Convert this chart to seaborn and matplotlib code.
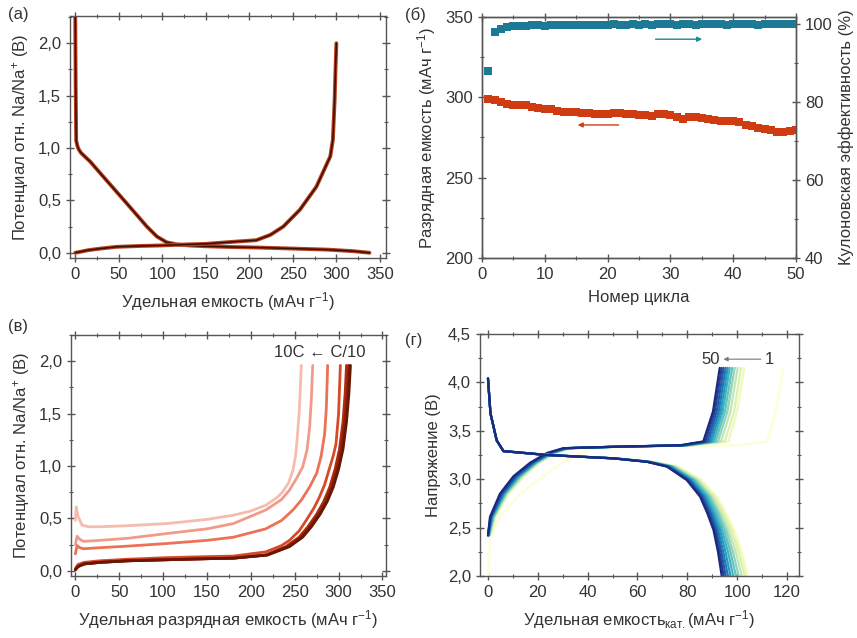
import numpy as np
import matplotlib
matplotlib.use('Agg')
import matplotlib.pyplot as plt
from matplotlib.ticker import MultipleLocator, FuncFormatter
import seaborn as sns

# ---------- (а) первый цикл заряд/разряд ----------
a_dis_x = [0, 0.5, 1.1, 2.5, 3.8, 6.5, 9.6, 17.2, 28.7, 44, 59.3, 70.8, 82.3, 93.8, 105, 117, 130, 150,
           180, 210, 250, 290, 320, 338]
a_dis_y = [2.3, 1.6, 1.07, 1.02, 0.99, 0.955, 0.93, 0.87, 0.76, 0.615, 0.47, 0.36, 0.25, 0.155, 0.1, 0.08,
           0.07, 0.062, 0.055, 0.05, 0.04, 0.03, 0.015, 0.0]
a_chg_x = [0, 15, 29, 48, 75, 100, 130, 150, 182, 208, 224, 239, 258, 277, 293, 296, 298, 299, 300]
a_chg_y = [0.0, 0.025, 0.04, 0.057, 0.065, 0.07, 0.08, 0.085, 0.105, 0.12, 0.17, 0.25, 0.41, 0.63, 0.92,
           1.08, 1.46, 1.75, 2.0]

# ---------- (б) циклирование ----------
b_cycles = list(range(1, 51))
b_capacity = [299, 298.5, 297, 296, 295.5, 295.5, 295, 294, 293.5, 293,
              292.5, 291.5, 291, 291, 291, 290.5, 290, 289.5, 289.5, 289.5,
              290.5, 290, 289.5, 289.5, 289, 289, 288.5, 289.5, 289.5, 289,
              288, 286.5, 287.5, 287.5, 287, 286.5, 286, 285.5, 285, 285,
              284.5, 283, 282, 281, 280.5, 279.5, 278.5, 278.5, 279, 279.5]
b_efficiency = [88.0, 98.0, 98.8, 99.2, 99.5, 99.6, 99.6, 99.7, 99.7, 99.6,
                99.7, 99.7, 99.8, 99.8, 99.7, 99.8, 99.8, 99.8, 99.8, 99.8,
                99.9, 99.8, 99.8, 99.9, 99.8, 99.9, 99.8, 99.9, 100.0, 99.9,
                99.8, 99.9, 99.9, 99.8, 99.9, 99.9, 99.9, 99.9, 99.8, 99.9,
                99.9, 99.9, 99.9, 99.8, 99.9, 99.9, 100.0, 99.9, 99.9, 100.0]

# ---------- (в) разные токи ----------
v_rates = ['10C', '5C', '2C', '1C', 'C/2', 'C/5', 'C/10']
v_colors = ['#f6bcae', '#f29a88', '#ec7256', '#d64a28', '#b02e10', '#8e2006', '#6a1604']
v_x_10C = [0, 1, 3, 7.6, 15, 28, 60, 104, 150, 180, 200, 217, 230, 236, 243, 248, 251, 253, 255, 256.5, 257.5]
v_y_10C = [0.48, 0.61, 0.52, 0.435, 0.42, 0.42, 0.43, 0.45, 0.49, 0.53, 0.57, 0.625, 0.7, 0.75, 0.84, 0.96,
           1.1, 1.28, 1.5, 1.75, 1.96]
v_x_5C = [0, 2, 5, 9.5, 28, 60, 104, 150, 180, 217, 235, 244, 252, 259, 264, 267, 269, 270.5]
v_y_5C = [0.25, 0.33, 0.3, 0.28, 0.29, 0.31, 0.355, 0.4, 0.45, 0.58, 0.68, 0.77, 0.88, 0.99, 1.15, 1.37, 1.65, 1.96]
v_x_2C = [0, 2, 5, 9.5, 28, 60, 104, 150, 180, 217, 235, 248, 258, 267, 275, 280, 284, 286, 287.5]
v_y_2C = [0.16, 0.24, 0.22, 0.21, 0.22, 0.235, 0.26, 0.29, 0.32, 0.4, 0.48, 0.58, 0.68, 0.8, 0.93, 1.09,
          1.3, 1.55, 1.96]
v_x_1C = [0, 3, 10, 28, 60, 104, 150, 180, 217, 235, 244, 255, 263, 272, 278, 284, 289, 294, 297, 300, 302]
v_y_1C = [0.02, 0.06, 0.08, 0.095, 0.11, 0.125, 0.135, 0.14, 0.18, 0.24, 0.29, 0.38, 0.48, 0.6, 0.7, 0.82,
          0.96, 1.1, 1.21, 1.5, 1.96]
v_y_slow = [0.01, 0.04, 0.065, 0.08, 0.095, 0.105, 0.115, 0.12, 0.15, 0.23, 0.32, 0.42, 0.54, 0.66, 0.8,
            0.97, 1.16, 1.42, 1.7, 1.96]
v_x_C2 = [0, 3, 10, 28, 60, 104, 150, 180, 217, 240, 255, 265, 275, 283, 290, 296, 301, 305, 307.5, 309]
v_x_C5 = [0, 3, 10, 28, 60, 104, 150, 180, 218, 242, 257, 267, 277, 285, 292, 298, 303, 307, 309.8, 311.5]
v_x_C10 = [0, 3, 10, 28, 60, 104, 150, 180, 219, 244, 259, 269, 279, 287, 294, 300, 305, 309, 311.8, 313.5]

# ---------- (г) катод, циклы 1-50 ----------
g_cycles = [1, 2, 5, 10, 15, 20, 25, 30, 35, 40, 45, 50]
g_chg_v = [2.0, 2.42, 2.61, 2.85, 3.03, 3.17, 3.27, 3.32, 3.335, 3.35, 3.39, 3.7, 4.15]
g_chg_x = [
    [0.0, 1.0, 4.8, 13.0, 22.0, 30.0, 37.0, 43.0, 60.0, 100.0, 112.0, 115.5, 118.5],
    [np.nan, 1.0, 3.0, 8.3, 14.5, 20.8, 27.3, 33.5, 53.0, 82.0, 96.5, 100.0, 102.8],
    [np.nan, 0.8, 2.7, 7.9, 14.0, 20.3, 26.8, 33.0, 52.5, 81.5, 95.0, 98.8, 101.5],
    [np.nan, 0.6, 2.4, 7.5, 13.6, 19.9, 26.4, 32.6, 52.0, 81.0, 93.5, 97.3, 100.2],
    [np.nan, 0.5, 2.2, 7.2, 13.2, 19.6, 26.1, 32.3, 51.7, 80.5, 92.3, 96.1, 99.0],
    [np.nan, 0.4, 2.0, 6.9, 12.8, 19.3, 25.8, 32.0, 51.5, 80.0, 91.3, 95.1, 98.0],
    [np.nan, 0.3, 1.8, 6.6, 12.4, 19.0, 25.5, 31.7, 51.3, 79.5, 90.4, 94.2, 97.0],
    [np.nan, 0.2, 1.6, 6.3, 12.0, 18.7, 25.2, 31.4, 51.1, 79.0, 89.6, 93.4, 96.2],
    [np.nan, 0.1, 1.4, 6.0, 11.6, 18.3, 24.8, 31.1, 50.9, 78.5, 88.8, 92.6, 95.4],
    [np.nan, 0.0, 1.2, 5.6, 11.2, 17.9, 24.4, 30.8, 50.7, 78.0, 88.0, 91.8, 94.6],
    [np.nan, 0.0, 1.0, 5.2, 10.7, 17.4, 24.0, 30.5, 50.5, 77.5, 87.2, 91.0, 93.8],
    [np.nan, 0.0, 0.8, 4.8, 10.2, 16.9, 23.6, 30.2, 50.3, 77.0, 86.4, 90.3, 93.0],
]
g_dis_v = [4.04, 3.68, 3.40, 3.29, 3.25, 3.215, 3.18, 3.13, 2.99, 2.82, 2.65, 2.475, 2.25, 2.0]
g_dis_x = [
    [0.0, 1.0, 3.5, 6.4, 24.5, 52.0, 66.5, 76.5, 86.0, 92.0, 95.8, 99.0, 102.0, 104.5],
    [0.0, 1.0, 3.5, 6.3, 24.2, 51.6, 66.0, 76.0, 85.5, 91.5, 95.2, 98.4, 101.4, 104.0],
    [0.0, 1.0, 3.5, 6.3, 24.0, 51.3, 65.6, 75.4, 84.8, 90.8, 94.5, 97.6, 100.5, 103.0],
    [0.0, 1.0, 3.5, 6.3, 24.0, 51.1, 65.3, 74.9, 84.1, 90.0, 93.6, 96.6, 99.4, 101.8],
    [0.0, 1.0, 3.5, 6.3, 23.9, 51.0, 65.0, 74.4, 83.5, 89.3, 92.8, 95.7, 98.3, 100.6],
    [0.0, 1.0, 3.5, 6.3, 23.8, 50.9, 64.8, 74.0, 82.9, 88.6, 92.0, 94.8, 97.3, 99.5],
    [0.0, 1.0, 3.5, 6.2, 23.8, 50.8, 64.5, 73.6, 82.3, 87.9, 91.2, 93.9, 96.3, 98.4],
    [0.0, 1.0, 3.5, 6.2, 23.7, 50.7, 64.3, 73.2, 81.7, 87.2, 90.4, 93.1, 95.3, 97.3],
    [0.0, 1.0, 3.5, 6.2, 23.7, 50.6, 64.1, 72.8, 81.2, 86.6, 89.7, 92.3, 94.4, 96.3],
    [0.0, 1.0, 3.5, 6.2, 23.7, 50.5, 64.0, 72.5, 80.7, 86.0, 89.1, 91.6, 93.6, 95.4],
    [0.0, 1.0, 3.5, 6.2, 23.6, 50.4, 63.8, 72.1, 80.2, 85.5, 88.5, 91.0, 92.9, 94.6],
    [0.0, 1.0, 3.5, 6.2, 23.6, 50.3, 63.7, 71.8, 79.8, 85.1, 88.0, 90.5, 92.3, 93.8],
]

sns.set_style('ticks')
plt.rcParams['font.family'] = ['Liberation Sans', 'DejaVu Sans']
plt.rcParams['mathtext.fontset'] = 'custom'
plt.rcParams['mathtext.rm'] = 'Liberation Sans'
plt.rcParams['mathtext.it'] = 'Liberation Sans:italic'
plt.rcParams['mathtext.bf'] = 'Liberation Sans:bold'
plt.rcParams['mathtext.default'] = 'regular'
TXT = '#333333'
FS = 12


def comma(fmt):
    return FuncFormatter(lambda v, p: fmt.format(v).replace('.', ','))


def style_axes(ax, xmaj, xmin, ymaj, ymin, yfmt='{:.1f}', right=True):
    ax.xaxis.set_major_locator(MultipleLocator(xmaj))
    ax.xaxis.set_minor_locator(MultipleLocator(xmin))
    ax.yaxis.set_major_locator(MultipleLocator(ymaj))
    ax.yaxis.set_minor_locator(MultipleLocator(ymin))
    ax.xaxis.set_major_formatter(comma('{:.0f}'))
    ax.yaxis.set_major_formatter(comma(yfmt))
    ax.tick_params(which='both', direction='inout', top=True, right=right,
                   colors='#555555', labelcolor=TXT, labelsize=FS)
    ax.tick_params(which='major', length=6, width=1)
    ax.tick_params(which='minor', length=3, width=0.8)
    for s in ax.spines.values():
        s.set_color('#555555')
        s.set_linewidth(1.0)


fig = plt.figure(figsize=(8.57, 6.38), dpi=100)

# ---------- (а) ----------
ax_a = fig.add_axes([0.0817, 0.5956, 0.3687, 0.3793])
for xs, ys in [(a_dis_x, a_dis_y), (a_chg_x, a_chg_y)]:
    sns.lineplot(x=xs, y=ys, ax=ax_a, color='#b8401f', lw=2.8, sort=False, estimator=None)
    sns.lineplot(x=xs, y=ys, ax=ax_a, color='#3a0d04', lw=1.1, sort=False, estimator=None)
ax_a.set_xlim(-6, 357)
ax_a.set_ylim(-0.05, 2.26)
style_axes(ax_a, 50, 25, 0.5, 0.25)
ax_a.set_xlabel('Удельная емкость (мАч г$^{-1}$)', fontsize=FS, color=TXT, labelpad=6)
ax_a.set_ylabel('Потенциал отн. Na/Na$^{+}$ (В)', fontsize=FS, color=TXT, labelpad=5)

# ---------- (б) ----------
ax_b = fig.add_axes([0.5624, 0.5956, 0.3664, 0.3778])
ax_b2 = ax_b.twinx()
sns.lineplot(x=b_cycles, y=b_capacity, ax=ax_b, color='#d03c12', lw=3, sort=False, estimator=None)
sns.scatterplot(x=b_cycles, y=b_capacity, ax=ax_b, color='#d03c12', marker='s', s=32, linewidth=0)
sns.lineplot(x=b_cycles[1:], y=b_efficiency[1:], ax=ax_b2, color='#1c7a94', lw=3, sort=False, estimator=None)
sns.scatterplot(x=b_cycles, y=b_efficiency, ax=ax_b2, color='#1c7a94', marker='s', s=32, linewidth=0)
ax_b.set_xlim(0, 50)
ax_b.set_ylim(200, 350)
ax_b2.set_ylim(40, 101.8)
style_axes(ax_b, 10, 5, 50, 25, yfmt='{:.0f}', right=False)
style_axes(ax_b2, 10, 5, 20, 10, yfmt='{:.0f}')
ax_b2.tick_params(which='both', left=False, top=False, labelleft=False)
ax_b.set_xlabel('Номер цикла', fontsize=FS, color=TXT, labelpad=6)
ax_b.set_ylabel('Разрядная емкость (мАч г$^{-1}$)', fontsize=FS, color=TXT, labelpad=5)
ax_b2.set_ylabel('Кулоновская эффективность (%)', fontsize=FS, color=TXT, labelpad=4)
ax_b.annotate('', xy=(14.8, 282.8), xytext=(22.2, 282.8),
              arrowprops=dict(arrowstyle='-|>', color='#d03c12', lw=1, mutation_scale=7))
ax_b2.annotate('', xy=(35.5, 96.1), xytext=(27.2, 96.1),
               arrowprops=dict(arrowstyle='-|>', color='#1c8a94', lw=1, mutation_scale=7))

# ---------- (в) ----------
ax_v = fig.add_axes([0.0828, 0.0972, 0.3676, 0.3777])
v_curves = [(v_x_10C, v_y_10C), (v_x_5C, v_y_5C), (v_x_2C, v_y_2C), (v_x_1C, v_y_1C),
            (v_x_C2, v_y_slow), (v_x_C5, v_y_slow), (v_x_C10, v_y_slow)]
for (xs, ys), c in zip(v_curves, v_colors):
    sns.lineplot(x=xs, y=ys, ax=ax_v, color=c, lw=2.0, sort=False, estimator=None)
ax_v.set_xlim(-5, 354)
ax_v.set_ylim(-0.05, 2.25)
style_axes(ax_v, 50, 25, 0.5, 0.25)
ax_v.text(278, 2.08, '10C ← C/10', fontsize=FS, color=TXT, ha='center', va='center')
ax_v.set_xlabel('Удельная разрядная емкость (мАч г$^{-1}$)', fontsize=FS, color=TXT, labelpad=6)
ax_v.set_ylabel('Потенциал отн. Na/Na$^{+}$ (В)', fontsize=FS, color=TXT, labelpad=5)

# ---------- (г) ----------
ax_g = fig.add_axes([0.5601, 0.0972, 0.3722, 0.3793])
cmap = plt.get_cmap('YlGnBu')
g_colors = [cmap(t) for t in np.linspace(0.02, 0.92, len(g_cycles))]
for xs, c in zip(g_chg_x, g_colors):
    sns.lineplot(x=xs, y=g_chg_v, ax=ax_g, color=c, lw=1.6, sort=False, estimator=None)
for xs, c in zip(g_dis_x, g_colors):
    sns.lineplot(x=xs, y=g_dis_v, ax=ax_g, color=c, lw=1.6, sort=False, estimator=None)
ax_g.set_xlim(-3.2, 124.8)
ax_g.set_ylim(2.0, 4.5)
style_axes(ax_g, 20, 10, 0.5, 0.25)
ax_g.text(89.5, 4.24, '50', fontsize=FS, color=TXT, ha='center', va='center')
ax_g.text(112.8, 4.24, '1', fontsize=FS, color=TXT, ha='center', va='center')
ax_g.annotate('', xy=(93.4, 4.24), xytext=(110.6, 4.24),
              arrowprops=dict(arrowstyle='-|>', color='#777777', lw=0.8, mutation_scale=6))
ax_g.set_xlabel('Удельная емкость$_{\\mathrm{кат.}}$(мАч г$^{-1}$)', fontsize=FS, color=TXT, labelpad=6)
ax_g.set_ylabel('Напряжение (В)', fontsize=FS, color=TXT, labelpad=5)

# подписи панелей
for x, y, s in [(8, 15, '(a)'), (405, 15, '(б)'), (8, 326, '(в)'), (405, 340, '(г)')]:
    fig.text(x / 857, 1 - y / 638, s, fontsize=FS, color=TXT, ha='left', va='center')

plt.savefig('out.png', dpi=100)
